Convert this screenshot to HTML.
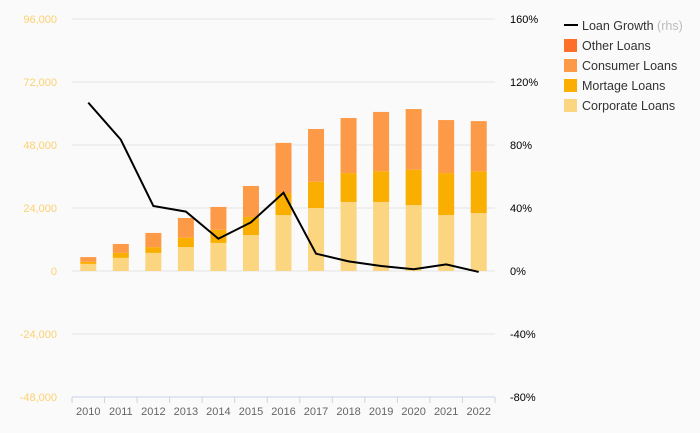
<!DOCTYPE html>
<html><head><meta charset="utf-8"><style>
body{margin:0;background:#fafafa;font-family:"Liberation Sans",sans-serif}
svg{display:block}
</style></head><body>
<svg id="chart" width="700" height="433">
<rect width="700" height="433" fill="#fafafa"/>
<g id="grid"></g><g id="bars"></g><g id="line"></g><g id="axes"></g>
<g id="legend" font-size="12.5" fill="#333">
 <g><line x1="564" y1="25" x2="578" y2="25" stroke="#000" stroke-width="2"/><text x="582" y="30">Loan Growth <tspan fill="#bbb">(rhs)</tspan></text></g>
 <g><rect x="564" y="39" width="13" height="13" fill="#ff6f2c"/><text x="582" y="50">Other Loans</text></g>
 <g><rect x="564" y="59" width="13" height="13" fill="#fd9a47"/><text x="582" y="70">Consumer Loans</text></g>
 <g><rect x="564" y="79" width="13" height="13" fill="#f9ae00"/><text x="582" y="90">Mortage Loans</text></g>
 <g><rect x="564" y="99" width="13" height="13" fill="#fcd581"/><text x="582" y="110">Corporate Loans</text></g>
</g>
</svg>
<script>
const years=["2010","2011","2012","2013","2014","2015","2016","2017","2018","2019","2020","2021","2022"];
const corporate=[2700,5000,6900,9100,10700,13700,21300,24000,26300,26300,25100,21300,22100];
const mortage=[800,1900,2200,3600,5000,6900,8400,10000,11000,11700,13500,16000,15900];
const consumer=[1800,3400,5400,7500,8700,11800,19100,20100,21000,22600,23100,20200,19100];
const other=[0,0,0,0,0,0,0,0,0,0,0,0,0];
const growth=[106.9,83.4,41.3,37.7,20.5,30.9,49.7,11,6.1,3.2,1.1,4.2,-0.6];
const leftTicks=[-48000,-24000,0,24000,48000,72000,96000];
const rightTicks=[-80,-40,0,40,80,120,160];
const NS="http://www.w3.org/2000/svg";
const X0=72,X1=495,Y0=271;
const bw=(X1-X0)/years.length;
const yL=v=>Y0-v*252/96000;
const yR=v=>Y0-v*252/160;
const xC=i=>X0+bw*(i+0.5);
function mk(t,a,p){const e=document.createElementNS(NS,t);for(const k in a)e.setAttribute(k,a[k]);p.appendChild(e);return e;}
const grid=document.getElementById('grid'),axes=document.getElementById('axes'),bars=document.getElementById('bars'),lg=document.getElementById('line');
leftTicks.forEach((v,i)=>{
 const l=mk('line',{x1:X0,x2:X1,y1:yL(v),y2:yL(v),stroke:'#e4e4e4'},grid);
 
 
 const t=mk('text',{x:57,y:yL(v)+4,'text-anchor':'end','font-size':11,fill:'#fcd170'},axes);
 t.textContent=v.toLocaleString('en-US');
 
 
});
rightTicks.forEach(v=>{
 const t=mk('text',{x:510,y:yR(v)+4,'font-size':11,fill:'#000'},axes);
 t.textContent=v+'%';
 
 
});
const ax=mk('line',{x1:X0,x2:X1,y1:397,y2:397,stroke:'#c8d4ea'},axes);


for(let i=0;i<=years.length;i++){const tk=mk('line',{x1:X0+bw*i,x2:X0+bw*i,y1:397,y2:403,stroke:'#c8d4ea'},axes);
 
 }
years.forEach((y,i)=>{
 const t=mk('text',{x:xC(i),y:415,'text-anchor':'middle','font-size':11,fill:'#666'},axes);
 t.textContent=y;
 
 
 const series=[[corporate,'#fcd581','corporate'],[mortage,'#f9ae00','mortage'],[consumer,'#fd9a47','consumer'],[other,'#ff6f2c','other']];
 let acc=0;
 series.forEach(([arr,c,n])=>{
  const v=arr[i];if(v<=0)return;
  const r=mk('rect',{x:xC(i)-8,width:16,y:yL(acc+v),height:yL(acc)-yL(acc+v),fill:c},bars);
  
  
  acc+=v;
 });
});
const p=mk('polyline',{points:growth.map((v,i)=>xC(i)+','+yR(v)).join(' '),fill:'none',stroke:'#000','stroke-width':2},lg);


</script>
</body></html>
